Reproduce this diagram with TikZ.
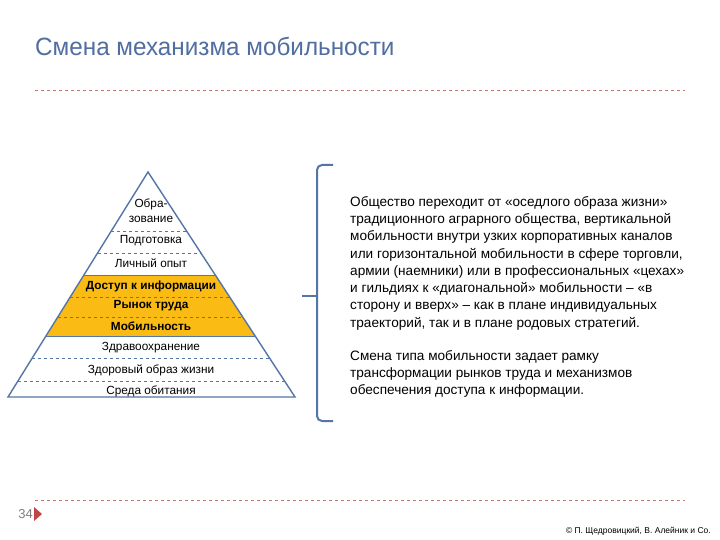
\documentclass[tikz,border=0pt]{standalone}
\usepackage{fontspec}
\setmainfont{Liberation Sans}
\newfontfamily\titlefont[FakeStretch=0.97]{Liberation Sans}
\usetikzlibrary{calc}
\definecolor{pblue}{RGB}{84,118,166}
\definecolor{tblue}{RGB}{80,110,160}
\definecolor{dred}{RGB}{190,120,120}
\definecolor{porange}{RGB}{250,188,20}
\definecolor{tred}{RGB}{192,70,70}
\tikzset{
  lbl/.style={font=\fontsize{11.8}{14}\selectfont, inner sep=0pt, anchor=center},
  blbl/.style={lbl, font=\fontsize{11.8}{14}\selectfont\bfseries},
  band/.style={pblue, dashed, line width=0.8pt},
  para/.style={font=\fontsize{13.6}{17.3}\selectfont, align=left, anchor=north west, inner sep=0pt},
}
\begin{document}
\begin{tikzpicture}[x=1pt,y=-1pt]
\useasboundingbox (0,0) rectangle (720,540);
\fill[white] (0,0) rectangle (720,540);
% title
\node[anchor=west, inner sep=0pt, text=tblue, font=\titlefont\fontsize{25}{28}\selectfont] (title) at (35,46) {Смена механизма мобильности};
\coordinate (tl1) at (35,90); \coordinate (tl2) at (685,90);
\draw[dred, dashed, line width=0.7pt] (tl1) -- (tl2);
\coordinate (bl1) at (35,500); \coordinate (bl2) at (685,500);
\draw[dred, dashed, line width=0.7pt] (bl1) -- (bl2);
% pyramid
\coordinate (apex) at (148,172);
\coordinate (pl) at (8,397);
\coordinate (pr) at (295,397);
\fill[porange] ($(apex)!0.462!(pl)$) -- ($(apex)!0.462!(pr)$) -- ($(apex)!0.729!(pr)$) -- ($(apex)!0.729!(pl)$) -- cycle;
\foreach \t in {0.262,0.36,0.556,0.644,0.827,0.929}
  \draw[band] ($(apex)!\t!(pl)$) -- ($(apex)!\t!(pr)$);
\foreach \t in {0.462,0.729}
  \draw[pblue, line width=1pt] ($(apex)!\t!(pl)$) -- ($(apex)!\t!(pr)$);
\draw[pblue, line width=1.4pt, line join=miter] (apex) -- (pl) -- (pr) -- cycle;
\node[lbl, align=center, font=\fontsize{11.8}{15}\selectfont] (l1) at (151,211) {Обра-\\зование};
\node[lbl] (l2) at (151,241) {Подготовка};
\node[lbl] (l3) at (151,263) {Личный опыт};
\node[blbl] (l4) at (151,286) {Доступ к информации};
\node[blbl] (l5) at (151,306) {Рынок труда};
\node[blbl] (l6) at (151,326) {Мобильность};
\node[lbl] (l7) at (151,348) {Здравоохранение};
\node[lbl] (l8) at (151,370) {Здоровый образ жизни};
\node[lbl] (l9) at (151,391) {Среда обитания};
% bracket
\coordinate (bt) at (333,165);
\coordinate (bb) at (333,421);
\coordinate (btick) at (302,296);
\draw[pblue, line width=2pt, rounded corners=5pt] (bt) -- (317,165) -- (317,421) -- (bb);
\draw[pblue, line width=2pt] (btick) -- (317,296);
% text
\node[para] (p1) at (350,196) {Общество переходит от «оседлого образа жизни»\\традиционного аграрного общества, вертикальной\\мобильности внутри узких корпоративных каналов\\или горизонтальной мобильности в сфере торговли,\\армии (наемники) или в профессиональных «цехах»\\и гильдиях к «диагональной» мобильности – «в\\сторону и вверх» – как в плане индивидуальных\\траекторий, так и в плане родовых стратегий.};
\node[para] (p2) at (350,350) {Смена типа мобильности задает рамку\\трансформации рынков труда и механизмов\\обеспечения доступа к информации.};
% footer
\node[anchor=east, inner sep=0pt, text=gray, font=\fontsize{13}{15}\selectfont] (num) at (33,514) {34};
\fill[tred] (34,507) -- (42,514) -- (34,521) -- cycle;
\node[anchor=east, inner sep=0pt, font=\fontsize{8.5}{10}\selectfont] (copy) at (711,531) {© П. Щедровицкий, В. Алейник и Co.};
\end{tikzpicture}
\end{document}
